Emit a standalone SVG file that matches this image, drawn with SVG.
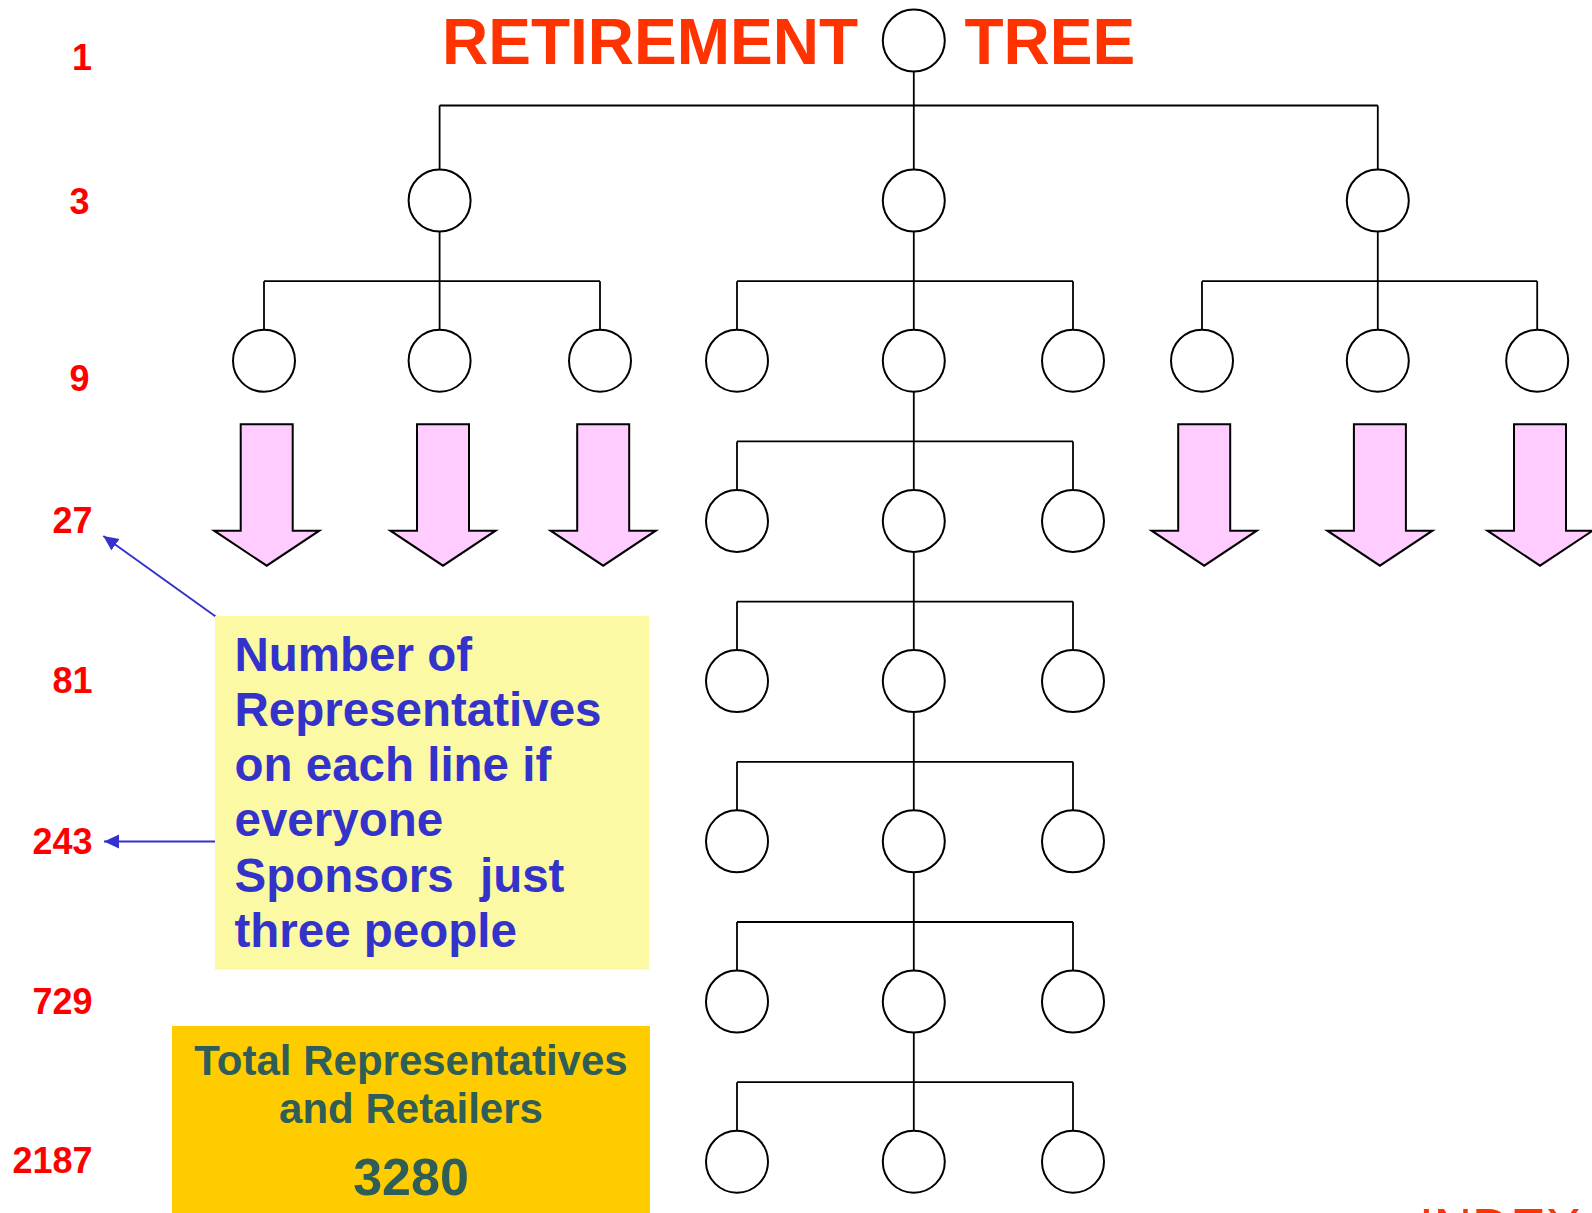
<svg xmlns="http://www.w3.org/2000/svg" width="1592" height="1213" viewBox="0 0 1592 1213">
<defs>
<style>
.node{fill:#FFFFFF;stroke:#000000;stroke-width:2}
.conn{fill:none;stroke:#000000;stroke-width:1.8}
.parrow{fill:#FFCCFF;stroke:#000000;stroke-width:2;stroke-linejoin:miter}
.lvl{font-family:"Liberation Sans",Arial,sans-serif;font-weight:bold;font-size:36px;fill:#FF0000;text-anchor:end}
.title{font-family:"Liberation Sans",Arial,sans-serif;font-weight:bold;font-size:64px;fill:#FF3300}
.note{font-family:"Liberation Sans",Arial,sans-serif;font-weight:bold;font-size:47.5px;fill:#3333CC}
.total{font-family:"Liberation Sans",Arial,sans-serif;font-weight:bold;fill:#2F5E58;text-anchor:middle}
.blue{fill:none;stroke:#3333CC;stroke-width:2}
</style>
<marker id="bh" markerUnits="userSpaceOnUse" markerWidth="16" markerHeight="16" refX="15" refY="7" orient="auto">
<path d="M0,0 L15,7 L0,14 Z" fill="#3333CC"/>
</marker>
<path id="pa" d="M-26,0 H26 V106.4 H52.6 L0,141.4 L-52.6,106.4 H-26 Z"/>
</defs>
<rect x="0" y="0" width="1592" height="1213" fill="#FFFFFF"/>

<g id="title">
<text class="title" x="442" y="64">RETIREMENT</text>
<text class="title" x="964.5" y="64">TREE</text>
</g>

<g id="level-labels">
<text class="lvl" x="92" y="70">1</text>
<text class="lvl" x="89.5" y="214.3">3</text>
<text class="lvl" x="89.5" y="391">9</text>
<text class="lvl" x="92.5" y="533.3">27</text>
<text class="lvl" x="92.5" y="692.7">81</text>
<text class="lvl" x="92.5" y="853.8">243</text>
<text class="lvl" x="92.5" y="1014.3">729</text>
<text class="lvl" x="92.5" y="1173.3">2187</text>
</g>

<g id="connectors">
<path class="conn" d="M913.8 71.5 V105.5 M439.6 105.5 H1377.8 M439.6 105.5 V169.5 M913.8 105.5 V169.5 M1377.8 105.5 V169.5"/>
<path class="conn" d="M439.6 231.5 V281.2 M264 281.2 H600 M264 281.2 V329.7 M439.6 281.2 V329.7 M600 281.2 V329.7"/>
<path class="conn" d="M913.8 231.5 V281.2 M737 281.2 H1073 M737 281.2 V329.7 M913.8 281.2 V329.7 M1073 281.2 V329.7"/>
<path class="conn" d="M1377.8 231.5 V281.2 M1202 281.2 H1537.2 M1202 281.2 V329.7 M1377.8 281.2 V329.7 M1537.2 281.2 V329.7"/>
<path class="conn" d="M913.8 391.7 V441.4 M737 441.4 H1073 M737 441.4 V489.9 M913.8 441.4 V489.9 M1073 441.4 V489.9"/>
<path class="conn" d="M913.8 551.9 V601.6 M737 601.6 H1073 M737 601.6 V650.1 M913.8 601.6 V650.1 M1073 601.6 V650.1"/>
<path class="conn" d="M913.8 712.1 V761.8 M737 761.8 H1073 M737 761.8 V810.3 M913.8 761.8 V810.3 M1073 761.8 V810.3"/>
<path class="conn" d="M913.8 872.3 V922 M737 922 H1073 M737 922 V970.5 M913.8 922 V970.5 M1073 922 V970.5"/>
<path class="conn" d="M913.8 1032.5 V1082.2 M737 1082.2 H1073 M737 1082.2 V1130.7 M913.8 1082.2 V1130.7 M1073 1082.2 V1130.7"/>
<path class="blue" d="M216 616.7 L103.3 536" marker-end="url(#bh)"/>
<path class="blue" d="M216 841.5 L104 841.5" marker-end="url(#bh)"/>
</g>

<g id="n-root"><circle class="node" cx="913.8" cy="40.5" r="31"/></g>
<g id="n-1a"><circle class="node" cx="439.6" cy="200.5" r="31"/></g>
<g id="n-1b"><circle class="node" cx="913.8" cy="200.5" r="31"/></g>
<g id="n-1c"><circle class="node" cx="1377.8" cy="200.5" r="31"/></g>

<g id="n-2a1"><circle class="node" cx="264" cy="360.7" r="31"/></g>
<g id="n-2a2"><circle class="node" cx="439.6" cy="360.7" r="31"/></g>
<g id="n-2a3"><circle class="node" cx="600" cy="360.7" r="31"/></g>
<g id="n-2b1"><circle class="node" cx="737" cy="360.7" r="31"/></g>
<g id="n-2b2"><circle class="node" cx="913.8" cy="360.7" r="31"/></g>
<g id="n-2b3"><circle class="node" cx="1073" cy="360.7" r="31"/></g>
<g id="n-2c1"><circle class="node" cx="1202" cy="360.7" r="31"/></g>
<g id="n-2c2"><circle class="node" cx="1377.8" cy="360.7" r="31"/></g>
<g id="n-2c3"><circle class="node" cx="1537.2" cy="360.7" r="31"/></g>

<g id="n-3a"><circle class="node" cx="737" cy="520.9" r="31"/></g>
<g id="n-3b"><circle class="node" cx="913.8" cy="520.9" r="31"/></g>
<g id="n-3c"><circle class="node" cx="1073" cy="520.9" r="31"/></g>
<g id="n-4a"><circle class="node" cx="737" cy="681.1" r="31"/></g>
<g id="n-4b"><circle class="node" cx="913.8" cy="681.1" r="31"/></g>
<g id="n-4c"><circle class="node" cx="1073" cy="681.1" r="31"/></g>
<g id="n-5a"><circle class="node" cx="737" cy="841.3" r="31"/></g>
<g id="n-5b"><circle class="node" cx="913.8" cy="841.3" r="31"/></g>
<g id="n-5c"><circle class="node" cx="1073" cy="841.3" r="31"/></g>
<g id="n-6a"><circle class="node" cx="737" cy="1001.5" r="31"/></g>
<g id="n-6b"><circle class="node" cx="913.8" cy="1001.5" r="31"/></g>
<g id="n-6c"><circle class="node" cx="1073" cy="1001.5" r="31"/></g>
<g id="n-7a"><circle class="node" cx="737" cy="1161.7" r="31"/></g>
<g id="n-7b"><circle class="node" cx="913.8" cy="1161.7" r="31"/></g>
<g id="n-7c"><circle class="node" cx="1073" cy="1161.7" r="31"/></g>

<g id="down-arrows">
<use href="#pa" class="parrow" x="266.7" y="424.3"/>
<use href="#pa" class="parrow" x="443" y="424.3"/>
<use href="#pa" class="parrow" x="603.2" y="424.3"/>
<use href="#pa" class="parrow" x="1204.2" y="424.3"/>
<use href="#pa" class="parrow" x="1379.9" y="424.3"/>
<use href="#pa" class="parrow" x="1540" y="424.3"/>
</g>

<g id="note-box">
<rect x="215" y="616" width="434" height="353.5" fill="#FBF9A3"/>
<text class="note" x="234.5" y="670.7">Number of</text>
<text class="note" x="234.5" y="725.9">Representatives</text>
<text class="note" x="234.5" y="781.1">on each line if</text>
<text class="note" x="234.5" y="836.3">everyone</text>
<text class="note" x="234.5" y="891.5" xml:space="preserve">Sponsors  just</text>
<text class="note" x="234.5" y="946.7">three people</text>
</g>

<g id="total-box">
<rect x="172" y="1026" width="478" height="187" fill="#FFCC00"/>
<text class="total" x="411" y="1075" font-size="42">Total Representatives</text>
<text class="total" x="411" y="1123.3" font-size="42">and Retailers</text>
<text class="total" x="411" y="1195" font-size="52">3280</text>
</g>

<g id="index-link">
<text x="1419" y="1246" font-family="'Liberation Sans',Arial,sans-serif" font-size="53" fill="#FF3300">INDEX</text>
</g>
</svg>
